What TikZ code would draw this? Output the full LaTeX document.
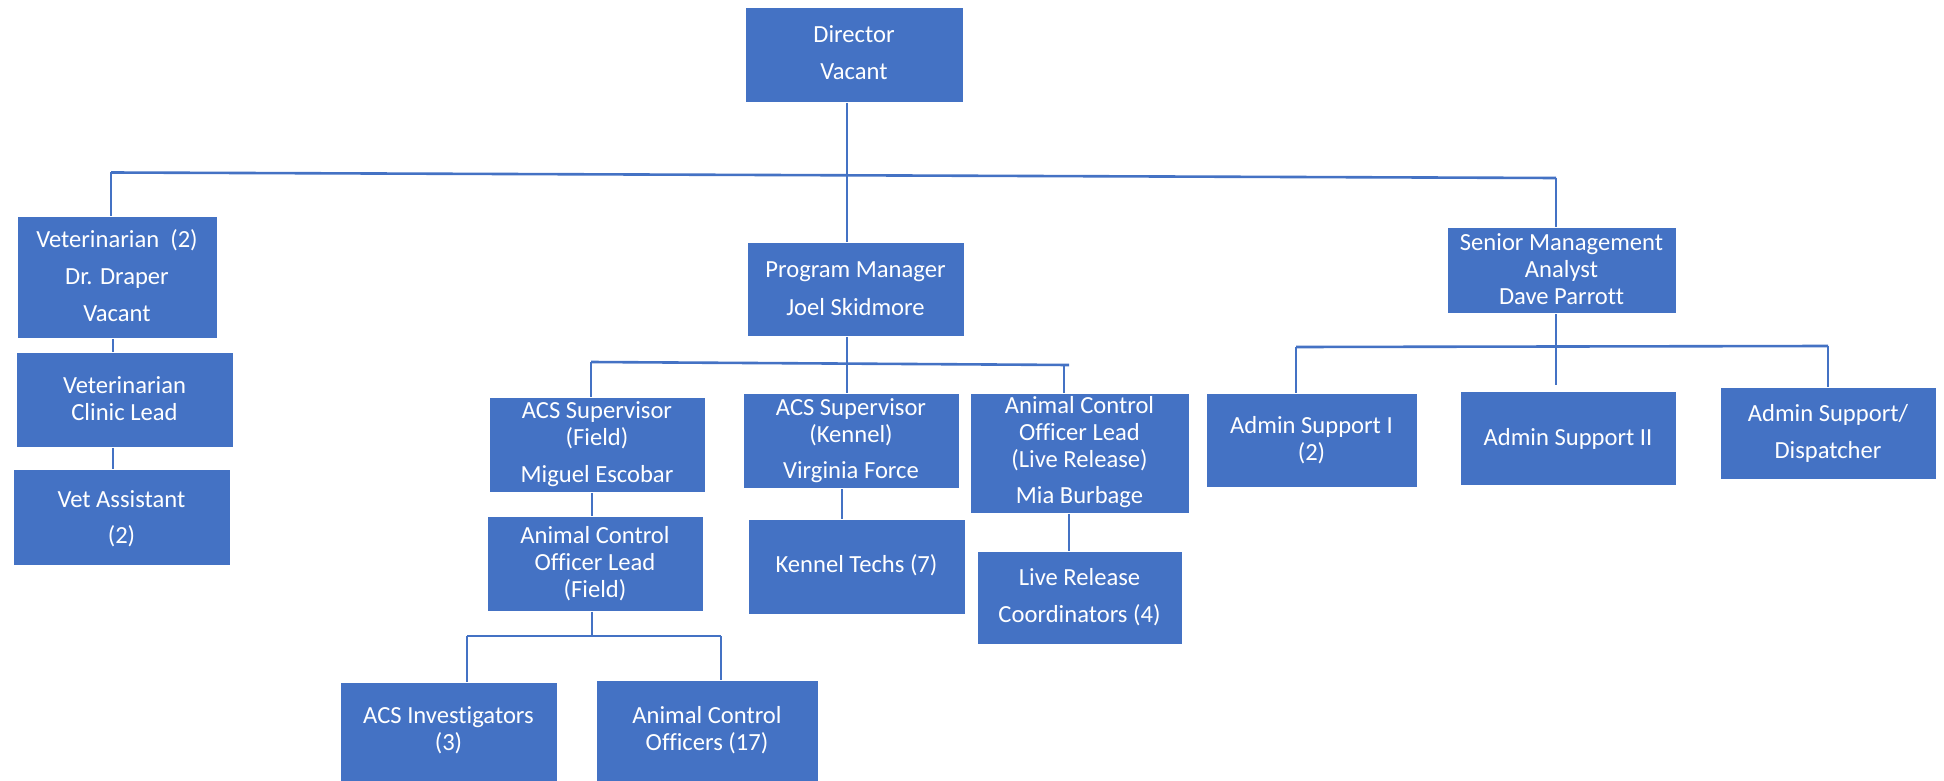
\documentclass[tikz,border=0pt]{standalone}
\usepackage{fontspec}
\setmainfont{Carlito}[Ligatures=NoCommon]
\definecolor{acblue}{HTML}{4472C4}
\tikzset{
  box/.style={rectangle, fill=acblue, draw=white, line width=0.8pt, inner sep=0pt, anchor=north west},
  lbl/.style={text=white, inner sep=0pt, anchor=base, font=\fontsize{24.6}{27}\selectfont},
  conn/.style={draw=acblue, line width=2.6pt}
}
\newcommand{\lines}[1]{\begin{tabular}[t]{@{}c@{}}#1\end{tabular}}
\begin{document}
\begin{tikzpicture}[x=1pt,y=-1pt]
\useasboundingbox (0,0) rectangle (1944,781);
% boxes
\node[box, minimum width=218pt, minimum height=95pt]  (dir)   at (745,7)    {};
\node[box, minimum width=200pt, minimum height=122pt] (vet)   at (17,216)   {};
\node[box, minimum width=217pt, minimum height=95pt]  (vcl)   at (16,352)   {};
\node[box, minimum width=217pt, minimum height=96pt]  (va)    at (13,469)   {};
\node[box, minimum width=217pt, minimum height=94pt]  (pm)    at (747,242)  {};
\node[box, minimum width=229pt, minimum height=86pt]  (sma)   at (1447,227) {};
\node[box, minimum width=211pt, minimum height=94pt]  (as1)   at (1206,393) {};
\node[box, minimum width=216pt, minimum height=94pt]  (as2)   at (1460,391) {};
\node[box, minimum width=216pt, minimum height=92pt]  (asd)   at (1720,387) {};
\node[box, minimum width=216pt, minimum height=95pt]  (acsf)  at (489,397)  {};
\node[box, minimum width=216pt, minimum height=95pt]  (acsk)  at (743,393)  {};
\node[box, minimum width=219pt, minimum height=120pt] (acol)  at (970,393)  {};
\node[box, minimum width=216pt, minimum height=95pt]  (acolf) at (487,516)  {};
\node[box, minimum width=217pt, minimum height=95pt]  (kt)    at (748,519)  {};
\node[box, minimum width=205pt, minimum height=93pt]  (lrc)   at (977,551)  {};
\node[box, minimum width=217pt, minimum height=100pt] (inv)   at (340,682)  {};
\node[box, minimum width=222pt, minimum height=102pt] (aco)   at (596,680)  {};
% texts
\node[lbl] (dirt)   at (854,43)    {\lines{Director\\[10pt]Vacant}};
\node[lbl] (vett)   at (117,247)   {\lines{Veterinarian\ \ (2)\\[10pt]Dr. Draper\\[10pt]Vacant}};
\node[lbl] (vclt)   at (124.5,393) {\lines{Veterinarian\\Clinic Lead}};
\node[lbl] (vat)    at (121.5,507) {\lines{Vet Assistant\\[9pt](2)}};
\node[lbl] (pmt)    at (855.5,277) {\lines{Program Manager\\[11pt]Joel Skidmore}};
\node[lbl] (smat)   at (1561.5,250){\lines{Senior Management\\Analyst\\Dave Parrott}};
\node[lbl] (as1t)   at (1311.5,433){\lines{Admin Support I\\(2)}};
\node[lbl] (as2t)   at (1568,445)  {Admin Support II};
\node[lbl] (asdt)   at (1828,421)  {\lines{Admin Support/\\[10pt]Dispatcher}};
\node[lbl] (acsft)  at (597,418)   {\lines{ACS Supervisor\\(Field)\\[10pt]Miguel Escobar}};
\node[lbl] (acskt)  at (851,415)   {\lines{ACS Supervisor\\(Kennel)\\[9pt]Virginia Force}};
\node[lbl] (acolt)  at (1079.5,413){\lines{Animal Control\\Officer Lead\\(Live Release)\\[9pt]Mia Burbage}};
\node[lbl] (acolft) at (595,543)   {\lines{Animal Control\\Officer Lead\\(Field)}};
\node[lbl] (ktt)    at (856.5,572) {Kennel Techs (7)};
\node[lbl] (lrct)   at (1079.5,585){\lines{Live Release\\[10pt]Coordinators (4)}};
\node[lbl] (invt)   at (448.5,723) {\lines{ACS Investigators\\(3)}};
\node[lbl] (acot)   at (707,723)   {\lines{Animal Control\\Officers (17)}};
% connector coordinates
\coordinate (mL) at (111,172.5);
\coordinate (mM) at (847,174.5);
\coordinate (mR) at (1556,178);
\coordinate (vx) at (113,0);
\coordinate (pL) at (591,362);
\coordinate (pR) at (1069,365);
\coordinate (pRv) at (1064,365);
\coordinate (lM) at (592,636);
\coordinate (lL) at (467,636);
\coordinate (lR) at (721,636);
\coordinate (kx) at (842,0);
\coordinate (lx) at (1069,0);
\coordinate (sL) at (1296,347);
\coordinate (sR) at (1828,346);
\coordinate (sMe) at (1556,385);
% connectors
\draw[conn] (dir.south -| mM) -- (pm.north -| mM);
\draw[conn] (mL) -- (mR);
\draw[conn] (mL) -- (vet.north -| mL);
\draw[conn] (mR) -- (sma.north -| mR);
\draw[conn] (vet.south -| vx) -- (vcl.north -| vx);
\draw[conn] (vcl.south -| vx) -- (va.north -| vx);
\draw[conn] (pm.south -| mM) -- (acsk.north -| mM);
\draw[conn] (pL) -- (pR);
\draw[conn] (pL) -- (acsf.north -| pL);
\draw[conn] (pRv) -- (acol.north -| pRv);
\draw[conn] (acsf.south -| lM) -- (acolf.north -| lM);
\draw[conn] (acolf.south -| lM) -- (lM);
\draw[conn] (lL) -- (lR);
\draw[conn] (lL) -- (inv.north -| lL);
\draw[conn] (lR) -- (aco.north -| lR);
\draw[conn] (acsk.south -| kx) -- (kt.north -| kx);
\draw[conn] (acol.south -| lx) -- (lrc.north -| lx);
\draw[conn] (sma.south -| sMe) -- (sMe);
\draw[conn] (sL) -- (sR);
\draw[conn] (sL) -- (as1.north -| sL);
\draw[conn] (sR) -- (asd.north -| sR);
\end{tikzpicture}
\end{document}
